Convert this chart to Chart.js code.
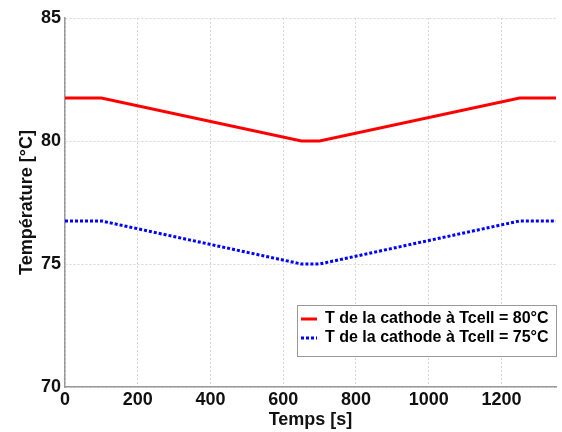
<!DOCTYPE html>
<html><head><meta charset="utf-8">
<script src="https://cdn.jsdelivr.net/npm/chart.js@4/dist/chart.umd.min.js"></script>
<style>html,body{margin:0;padding:0;background:#fff}#wrap{width:562px;height:432px}</style>
</head><body><div id="wrap"><canvas id="c" width="562" height="432"></canvas></div>
<script>
const timeValues = [0, 100, 650, 700, 1250, 1350];
const tempCathode80 = [81.75, 81.75, 80, 80, 81.75, 81.75];
const tempCathode75 = [76.75, 76.75, 75, 75, 76.75, 76.75];
const seriesLabels = ['T de la cathode à Tcell = 80°C', 'T de la cathode à Tcell = 75°C'];
const xTitle = 'Temps [s]';
const yTitle = 'Température [°C]';

const FONT = 'Liberation Sans, Arial, Helvetica, sans-serif';

const legendPlugin = {
  id: 'boxLegend',
  afterDraw(chart) {
    const ctx = chart.ctx;
    const x0 = 297, y0 = 305, w = 259, h = 51;
    ctx.save();
    ctx.fillStyle = '#fff';
    ctx.fillRect(x0, y0, w, h);
    ctx.strokeStyle = '#999';
    ctx.lineWidth = 1;
    ctx.strokeRect(x0 + 0.5, y0 + 0.5, w, h);
    ctx.font = 'bold 16px ' + FONT;
    ctx.textBaseline = 'middle';
    chart.data.datasets.forEach((ds, i) => {
      const yy = y0 + 14 + i * 19;
      ctx.strokeStyle = ds.borderColor;
      ctx.lineWidth = 3;
      ctx.setLineDash(ds.borderDash || []);
      ctx.beginPath();
      ctx.moveTo(x0 + 4, yy);
      ctx.lineTo(x0 + 20, yy);
      ctx.stroke();
      ctx.setLineDash([]);
      ctx.fillStyle = '#000';
      ctx.fillText(ds.label, x0 + 28, yy);
    });
    ctx.restore();
  }
};

const plainTick = (v) => String(v);

new Chart(document.getElementById('c'), {
  type: 'line',
  data: {
    datasets: [
      { label: seriesLabels[0], data: timeValues.map((t, i) => ({x: t, y: tempCathode80[i]})),
        borderColor: '#ff0000', borderWidth: 3, pointRadius: 0, fill: false, tension: 0 },
      { label: seriesLabels[1], data: timeValues.map((t, i) => ({x: t, y: tempCathode75[i]})),
        borderColor: '#0000ff', borderWidth: 3, borderDash: [3, 2], pointRadius: 0, fill: false, tension: 0 }
    ]
  },
  options: {
    responsive: false,
    animation: false,
    layout: { padding: { left: 0, top: 18, right: 6, bottom: 0 } },
    plugins: { legend: { display: false }, tooltip: { enabled: false } },
    scales: {
      x: {
        type: 'linear', min: 0, max: 1350,
        afterFit(s) { s.height = 45; },
        ticks: { stepSize: 200, includeBounds: false, callback: plainTick, color: '#111', font: { family: FONT, size: 18, weight: 'bold' }, padding: 2 },
        grid: { color: '#d6d6d6', drawTicks: false, tickLength: 0 },
        border: { color: '#999', width: 1.5, dash: [2, 2] },
        title: { display: true, text: xTitle, color: '#111', font: { family: FONT, size: 18, weight: 'bold' }, padding: { top: 0, bottom: 1 } }
      },
      y: {
        min: 70, max: 85,
        afterFit(s) { s.width = 65; },
        ticks: { stepSize: 5, callback: plainTick, color: '#111', font: { family: FONT, size: 18, weight: 'bold' }, padding: 4 },
        grid: { color: '#d6d6d6', drawTicks: false, tickLength: 0 },
        border: { color: '#999', width: 1.5, dash: [2, 2] },
        title: { display: true, text: yTitle, color: '#111', font: { family: FONT, size: 18, weight: 'bold' }, padding: { top: 16, bottom: 0 } }
      }
    }
  },
  plugins: [legendPlugin]
});
</script></body></html>
